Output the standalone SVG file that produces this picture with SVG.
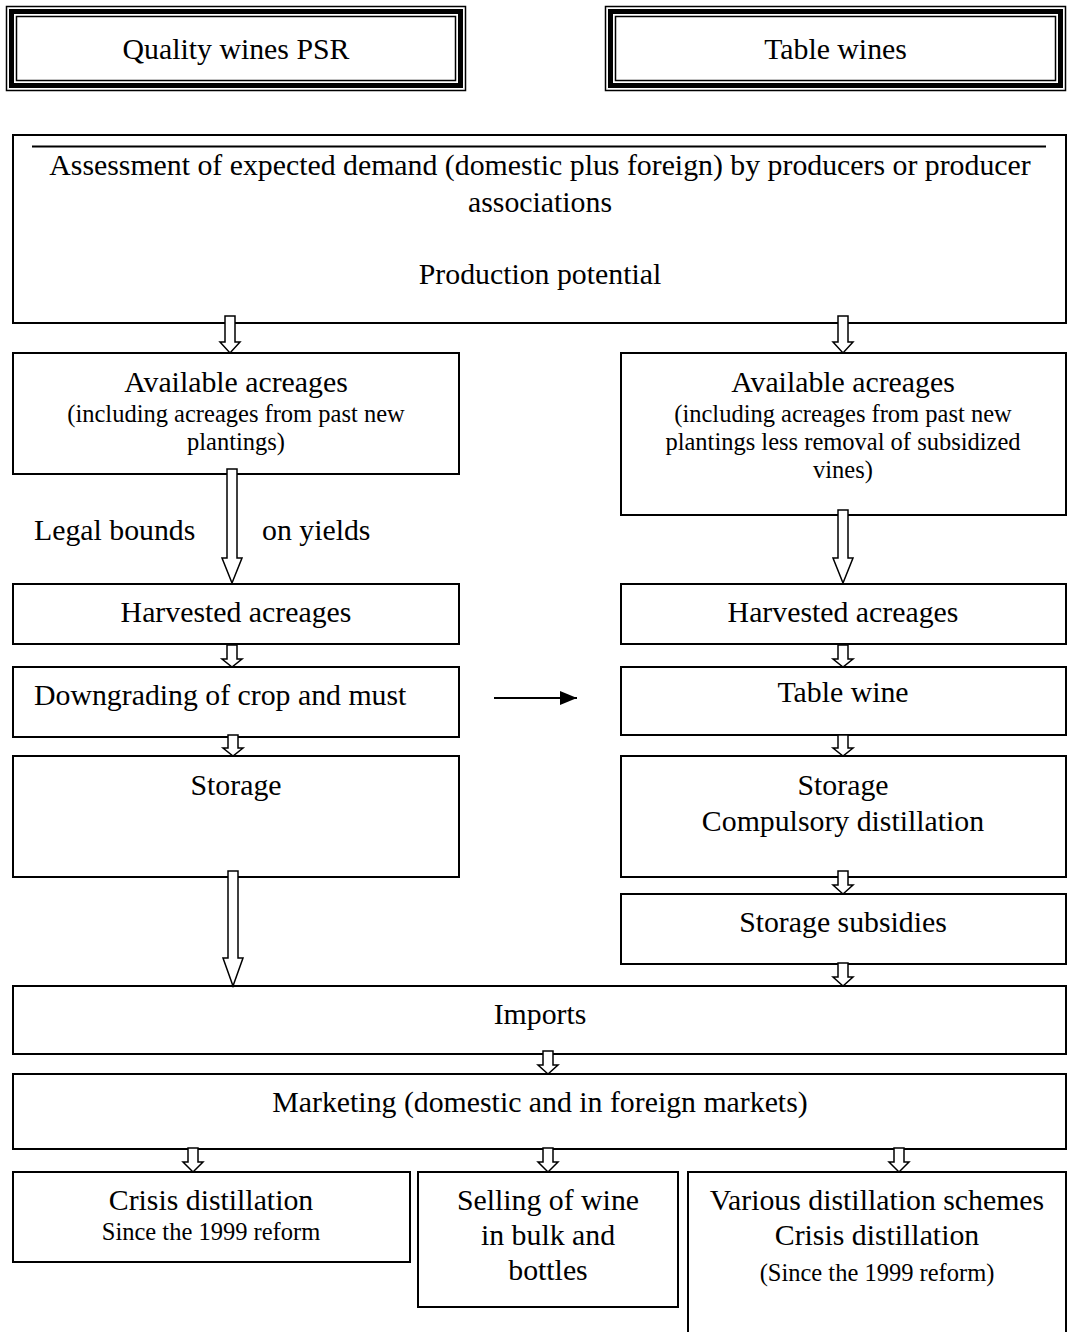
<svg xmlns="http://www.w3.org/2000/svg" width="1067" height="1332" viewBox="0 0 1067 1332">
<style>
.bx{fill:#fff;stroke:#000;stroke-width:2}
.t{font-family:"Liberation Serif","Times New Roman",serif;font-size:29.8px;fill:#000;text-anchor:middle}
.s{font-size:24.5px}
.l{text-anchor:start}
.ar{fill:#fff;stroke:#000;stroke-width:1.5;stroke-linejoin:miter}
.f1{fill:none;stroke:#000;stroke-width:1.5}
.f2{fill:none;stroke:#000;stroke-width:5}
</style>
<defs>
<marker id="ah" viewBox="0 0 17 14" refX="17" refY="7" markerWidth="17" markerHeight="14" markerUnits="userSpaceOnUse" orient="auto">
<path d="M0,0 L17,7 L0,14 Z" fill="#000"/>
</marker>
</defs>
<rect width="1067" height="1332" fill="#fff"/>

<g id="quality-wines">
<rect class="f1" x="6.5" y="6.5" width="459" height="84"/>
<rect class="f2" x="11.5" y="11.5" width="449" height="74"/>
<rect class="f1" x="16.5" y="16.5" width="439" height="64"/>
<text class="t" x="236" y="59">Quality wines PSR</text>
</g>
<g id="table-wines">
<rect class="f1" x="605.5" y="6.5" width="460" height="84"/>
<rect class="f2" x="610.5" y="11.5" width="450" height="74"/>
<rect class="f1" x="615.5" y="16.5" width="440" height="64"/>
<text class="t" x="835.5" y="59">Table wines</text>
</g>

<g id="assessment">
<rect class="bx" x="13" y="135" width="1053" height="188"/>
<line x1="32" y1="146.5" x2="1046" y2="146.5" stroke="#000" stroke-width="2"/>
<text class="t" x="540" y="175">Assessment of expected demand (domestic plus foreign) by producers or producer</text>
<text class="t" x="540" y="212">associations</text>
<text class="t" x="540" y="284">Production potential</text>
</g>

<g id="avail-left">
<rect class="bx" x="13" y="353" width="446" height="121"/>
<text class="t" x="236" y="392">Available acreages</text>
<text class="t s" x="236" y="422">(including acreages from past new</text>
<text class="t s" x="236" y="450">plantings)</text>
</g>
<g id="avail-right">
<rect class="bx" x="621" y="353" width="445" height="162"/>
<text class="t" x="843" y="392">Available acreages</text>
<text class="t s" x="843" y="422">(including acreages from past new</text>
<text class="t s" x="843" y="450">plantings less removal of subsidized</text>
<text class="t s" x="843" y="478">vines)</text>
</g>

<g id="legal-bounds">
<text class="t l" x="34" y="540">Legal bounds</text>
<text class="t l" x="262" y="540">on yields</text>
</g>

<g id="harv-left">
<rect class="bx" x="13" y="584" width="446" height="60"/>
<text class="t" x="236" y="622">Harvested acreages</text>
</g>
<g id="harv-right">
<rect class="bx" x="621" y="584" width="445" height="60"/>
<text class="t" x="843" y="622">Harvested acreages</text>
</g>

<g id="downgrading">
<rect class="bx" x="13" y="667" width="446" height="70"/>
<text class="t l" x="34" y="705">Downgrading of crop and must</text>
</g>
<g id="table-wine">
<rect class="bx" x="621" y="667" width="445" height="68"/>
<text class="t" x="843" y="702">Table wine</text>
</g>

<g id="storage-left">
<rect class="bx" x="13" y="756" width="446" height="121"/>
<text class="t" x="236" y="795">Storage</text>
</g>
<g id="storage-right">
<rect class="bx" x="621" y="756" width="445" height="121"/>
<text class="t" x="843" y="795">Storage</text>
<text class="t" x="843" y="831">Compulsory distillation</text>
</g>

<g id="storage-subsidies">
<rect class="bx" x="621" y="894" width="445" height="70"/>
<text class="t" x="843" y="932">Storage subsidies</text>
</g>

<g id="imports">
<rect class="bx" x="13" y="986" width="1053" height="68"/>
<text class="t" x="540" y="1024">Imports</text>
</g>

<g id="marketing">
<rect class="bx" x="13" y="1074" width="1053" height="75"/>
<text class="t" x="540" y="1112">Marketing (domestic and in foreign markets)</text>
</g>

<g id="crisis-distillation">
<rect class="bx" x="13" y="1172" width="397" height="90"/>
<text class="t" x="211" y="1210">Crisis distillation</text>
<text class="t s" x="211" y="1240">Since the 1999 reform</text>
</g>
<g id="selling">
<rect class="bx" x="418" y="1172" width="260" height="135"/>
<text class="t" x="548" y="1210">Selling of wine</text>
<text class="t" x="548" y="1245">in bulk and</text>
<text class="t" x="548" y="1280">bottles</text>
</g>
<g id="various">
<rect class="bx" x="688" y="1172" width="378" height="180"/>
<text class="t" x="877" y="1210">Various distillation schemes</text>
<text class="t" x="877" y="1245">Crisis distillation</text>
<text class="t s" x="877" y="1281">(Since the 1999 reform)</text>
</g>

<g id="connectors">
<polygon class="ar" points="225,316 235,316 235,342 240,342 230,353 220,342 225,342"/>
<polygon class="ar" points="838,316 848,316 848,342 853,342 843,353 833,342 838,342"/>
<polygon class="ar" points="227,469 237,469 237,558 242,558 232,583 222,558 227,558"/>
<polygon class="ar" points="838,510 848,510 848,558 853,558 843,583 833,558 838,558"/>
<polygon class="ar" points="227,645 237,645 237,659 242,659 232,667 222,659 227,659"/>
<polygon class="ar" points="838,645 848,645 848,659 853,659 843,667 833,659 838,659"/>
<polygon class="ar" points="228,735 238,735 238,748 243,748 233,756 223,748 228,748"/>
<polygon class="ar" points="838,735 848,735 848,748 853,748 843,756 833,748 838,748"/>
<polygon class="ar" points="228,871 238,871 238,958 243,958 233,986 223,958 228,958"/>
<polygon class="ar" points="838,871 848,871 848,885 853,885 843,894 833,885 838,885"/>
<polygon class="ar" points="838,963 848,963 848,977 853,977 843,986 833,977 838,977"/>
<polygon class="ar" points="543,1051 553,1051 553,1065 558,1065 548,1074 538,1065 543,1065"/>
<polygon class="ar" points="188,1148 198,1148 198,1162 203,1162 193,1172 183,1162 188,1162"/>
<polygon class="ar" points="543,1148 553,1148 553,1162 558,1162 548,1172 538,1162 543,1162"/>
<polygon class="ar" points="894,1148 904,1148 904,1162 909,1162 899,1172 889,1162 894,1162"/>
<line x1="494" y1="698" x2="577" y2="698" stroke="#000" stroke-width="2" marker-end="url(#ah)"/>
</g>
</svg>
